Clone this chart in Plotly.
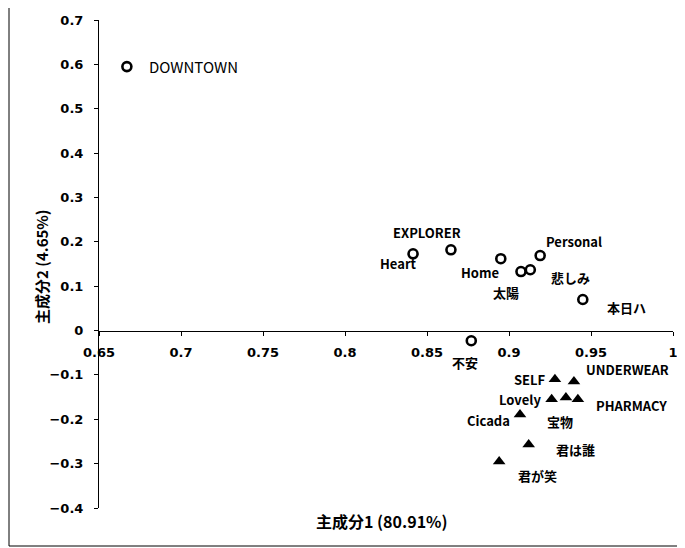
import plotly.graph_objects as go

# Circle group (open circles)
circ_labels = ["DOWNTOWN", "Heart", "EXPLORER", "Home", "太陽", "悲しみ", "Personal", "本日ハ", "不安"]
circ_x = [0.667, 0.8415, 0.8646, 0.895, 0.9073, 0.913, 0.919, 0.945, 0.877]
circ_y = [0.595, 0.173, 0.182, 0.162, 0.133, 0.137, 0.169, 0.070, -0.023]

# Triangle group (filled triangles)
tri_labels = ["SELF", "UNDERWEAR", "Lovely", "宝物", "PHARMACY", "Cicada", "君は誰", "君が笑"]
tri_x = [0.928, 0.9396, 0.926, 0.9347, 0.942, 0.9067, 0.912, 0.894]
tri_y = [-0.110, -0.115, -0.155, -0.151, -0.155, -0.189, -0.257, -0.295]

x_ticks = [0.65, 0.7, 0.75, 0.8, 0.85, 0.9, 0.95, 1.0]
x_ticktext = ["0.65", "0.7", "0.75", "0.8", "0.85", "0.9", "0.95", "1"]
y_ticks = [0.7, 0.6, 0.5, 0.4, 0.3, 0.2, 0.1, 0, -0.1, -0.2, -0.3, -0.4]

x_title = "主成分1 (80.91%)"
y_title = "主成分2 (4.65%)"

# label offsets in pixels (dx, dy with dy positive = up)
circ_off = [(20, 0), (-15, -10), (-24, 17), (-21, -14), (-15, -21), (40, -8), (34, 14), (44, -8), (-6, -22)]
tri_off = [(-25, 0), (54, 12), (-32, 0), (-6, -24), (54, -6), (-31, -6), (47, -5), (38, -14)]

FONT = "Noto Sans CJK JP"
TICKFONT = "DejaVu Sans"
W, H = 677, 540
ML, MR, MT, MB = 91, 12, 12, 40
PW, PH = W - ML - MR, H - MT - MB


def px_x(px):
    return (px - ML) / PW


def px_y(py):
    return (H - MB - py) / PH


fig = go.Figure()
fig.add_trace(go.Scatter(
    x=circ_x, y=circ_y, mode="markers",
    marker=dict(symbol="circle-open", size=9, color="black", line=dict(width=2.6, color="black")),
    showlegend=False, cliponaxis=False))
fig.add_trace(go.Scatter(
    x=tri_x, y=tri_y, mode="markers",
    marker=dict(symbol="triangle-up", size=11, color="black"),
    showlegend=False, cliponaxis=False))

annots = []
for lab, x, y, (dx, dy) in zip(circ_labels + tri_labels, circ_x + tri_x, circ_y + tri_y, circ_off + tri_off):
    if lab == "DOWNTOWN":
        a = dict(x=x, y=y, text=lab, showarrow=False, xshift=dx, yshift=dy, xanchor="left",
                 font=dict(family=FONT, size=15, color="black"))
    else:
        a = dict(x=x, y=y, text="<b>" + lab + "</b>", showarrow=False, xshift=dx, yshift=dy,
                 xanchor="center", yanchor="middle",
                 font=dict(family=FONT, size=13, color="black"))
    annots.append(a)

annots.append(dict(xref="paper", yref="paper", x=px_x(374), y=px_y(513),
                   xanchor="center", yanchor="middle",
                   text="<b>" + x_title + "</b>", showarrow=False,
                   font=dict(family=FONT, size=16, color="black")))
annots.append(dict(xref="paper", yref="paper", x=px_x(33), y=px_y(259), textangle=-90,
                   xanchor="center", yanchor="middle",
                   text="<b>" + y_title + "</b>", showarrow=False,
                   font=dict(family=FONT, size=15, color="black")))

fig.update_layout(
    width=W, height=H,
    margin=dict(l=ML, r=MR, t=MT, b=MB, autoexpand=False),
    plot_bgcolor="white", paper_bgcolor="white",
    annotations=annots,
    font=dict(family=FONT, color="black"),
    xaxis=dict(range=[0.65, 1.0], tickvals=x_ticks, ticktext=x_ticktext, automargin=False,
               showgrid=False, zeroline=False, showline=True, linecolor="black", linewidth=1,
               ticks="outside", ticklen=4, tickcolor="black",
               anchor="free", position=0.4 / 1.1,
               tickfont=dict(family=TICKFONT, size=13, color="black", weight="bold"), ticklabelstandoff=6),
    yaxis=dict(range=[-0.4, 0.7], tickvals=y_ticks, automargin=False,
               showgrid=False, zeroline=False, showline=True, linecolor="black", linewidth=1,
               ticks="outside", ticklen=4, tickcolor="black",
               tickfont=dict(family=TICKFONT, size=13, color="black", weight="bold"), ticklabelstandoff=8),
    shapes=[dict(type="rect", xref="paper", yref="paper",
                 x0=px_x(1), x1=px_x(676),
                 y0=px_y(538), y1=px_y(-2),
                 line=dict(color="black", width=1))],
)

fig.write_html("out.html")
